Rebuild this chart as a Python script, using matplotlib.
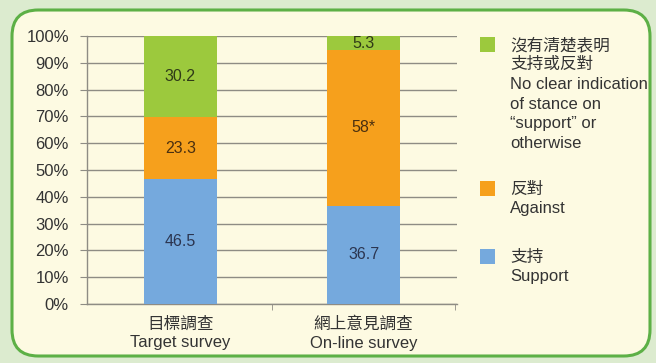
import numpy as np
import matplotlib
matplotlib.use('Agg')
import matplotlib.pyplot as plt
from matplotlib.patches import FancyBboxPatch, Rectangle

plt.rcParams['font.family'] = ['Liberation Sans', 'Noto Sans CJK TC', 'DejaVu Sans']
plt.rcParams['font.size'] = 11

## Data
categories_zh = ['目標調查', '網上意見調查']
categories_en = ['Target survey', 'On-line survey']
support = [46.5, 36.7]
against = [23.3, 58.0]
unclear = [30.2, 5.3]
value_labels = {
    'support': ['46.5', '36.7'],
    'against': ['23.3', '58*'],
    'unclear': ['30.2', '5.3'],
}
legend_labels = {
    'unclear': ['沒有清楚表明', '支持或反對', 'No clear indication', 'of stance on',
                '\u201csupport\u201d or', 'otherwise'],
    'against': ['反對', 'Against'],
    'support': ['支持', 'Support'],
}
colors = {'support': '#75a9dd', 'against': '#f6a01c', 'unclear': '#9cc93d'}
text_colors = {'support': '#2b3550', 'against': '#4a3010', 'unclear': '#2f3a18'}
ytick_labels = ['0%', '10%', '20%', '30%', '40%', '50%', '60%', '70%', '80%', '90%', '100%']

W, H = 656, 363
fig = plt.figure(figsize=(W / 100, H / 100), dpi=100)
fig.patch.set_facecolor('#dcebcf')

# rounded cream panel with green border
panel = FancyBboxPatch((12 / W, 7 / H), 638 / W, 346 / H,
                       boxstyle='round,pad=0,rounding_size=0.04',
                       transform=fig.transFigure, facecolor='#fdfae2',
                       edgecolor='#5db046', linewidth=2.2, zorder=-5,
                       mutation_aspect=W / H)
fig.patches.append(panel)

ax = fig.add_axes([87 / W, 59 / H, 370 / W, 268 / H])
ax.set_facecolor('none')

x = np.arange(len(categories_zh))
width = 0.4
bottom = np.zeros(len(x))
for key, vals in [('support', support), ('against', against), ('unclear', unclear)]:
    vals = np.array(vals)
    ax.bar(x, vals, width, bottom=bottom, color=colors[key], zorder=3)
    for xi, b, v, lab in zip(x, bottom, vals, value_labels[key]):
        ax.text(xi, b + v / 2, lab, ha='center', va='center',
                fontsize=11.5, color=text_colors[key], zorder=4)
    bottom += vals

ax.set_xlim(-0.51, 1.51)
ax.set_ylim(0, 100)
ax.set_yticks(np.arange(0, 101, 10))
ax.set_yticklabels(ytick_labels, fontsize=12, color='#333333')
ax.yaxis.grid(True, color='#8e8c84', linewidth=1.0, zorder=1)
ax.tick_params(axis='y', length=5, color='#8e8c84', pad=8)

ax.set_xticks(x)
ax.set_xticklabels([f'{z}\n{e}' for z, e in zip(categories_zh, categories_en)],
                   fontsize=12, color='#333333', linespacing=1.3)
ax.tick_params(axis='x', length=0, pad=9)
ax.set_xticks([0.5, 1.5], minor=True)
ax.tick_params(axis='x', which='minor', length=4, color='#8e8c84')

for s in ['top', 'right']:
    ax.spines[s].set_visible(False)
for s in ['left', 'bottom']:
    ax.spines[s].set_color('#8e8c84')
    ax.spines[s].set_linewidth(1.0)

# legend on the right, one text line at a time for even spacing
legend_pos = {'unclear': 45, 'against': 189, 'support': 257}
for key in ['unclear', 'against', 'support']:
    y = legend_pos[key]
    fig.patches.append(Rectangle((480 / W, 1 - (y + 7) / H), 15 / W, 15 / H,
                                 transform=fig.transFigure,
                                 facecolor=colors[key], edgecolor='none'))
    for i, line in enumerate(legend_labels[key]):
        fig.text(510 / W, 1 - (y + i * 19.7) / H, line, ha='left', va='center',
                 fontsize=12, color='#333333')

fig.savefig('out.png', dpi=100, facecolor=fig.get_facecolor())
